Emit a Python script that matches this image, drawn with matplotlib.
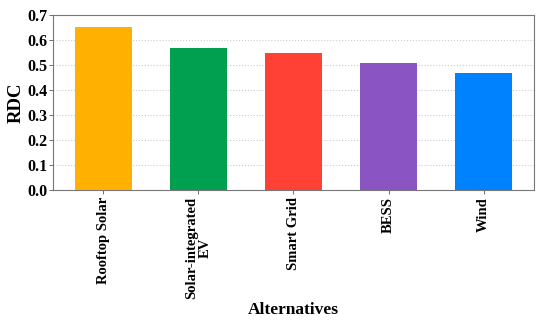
import matplotlib
matplotlib.use("Agg")
import matplotlib.pyplot as plt

categories = ["Rooftop Solar", "Solar-integrated\nEV", "Smart Grid", "BESS", "Wind"]
rdc_values = [0.651, 0.567, 0.550, 0.508, 0.468]
colors = ["#FFB000", "#00A050", "#FF4035", "#8A55C2", "#0082FF"]
yticks = [0.0, 0.1, 0.2, 0.3, 0.4, 0.5, 0.6, 0.7]

plt.rcParams['font.family'] = ['Liberation Serif', 'DejaVu Serif']
plt.rcParams['font.weight'] = 'bold'

fig = plt.figure(figsize=(5.5, 3.21), dpi=100)
ax = fig.add_axes([0.096, 0.408, 0.875, 0.545])
x = range(len(categories))
ax.bar(x, rdc_values, width=0.6, color=colors, zorder=3)
ax.set_xticks(list(x))
ax.set_xticklabels(categories, rotation=90, fontsize=10.5, fontweight='bold', linespacing=1.05)
ax.set_yticks(yticks)
ax.set_yticklabels([f"{v:.1f}" for v in yticks], fontsize=11.5, fontweight='bold')
ax.set_ylim(0, 0.7)
ax.yaxis.grid(True, linestyle=':', color='#cccccc', linewidth=0.8, zorder=0)
ax.set_ylabel("RDC", fontsize=13.5, fontweight='bold')
ax.yaxis.set_label_coords(-0.058, 0.5)
ax.set_xlabel("Alternatives", fontsize=12.5, fontweight='bold', labelpad=2)
for s in ax.spines.values():
    s.set_color('#777777')
    s.set_linewidth(0.8)
ax.tick_params(axis='x', length=3, width=0.6, color='#555555', pad=2)
ax.tick_params(axis='y', length=3, width=0.6, color='#555555', pad=1)
fig.savefig("out.png", dpi=100)
